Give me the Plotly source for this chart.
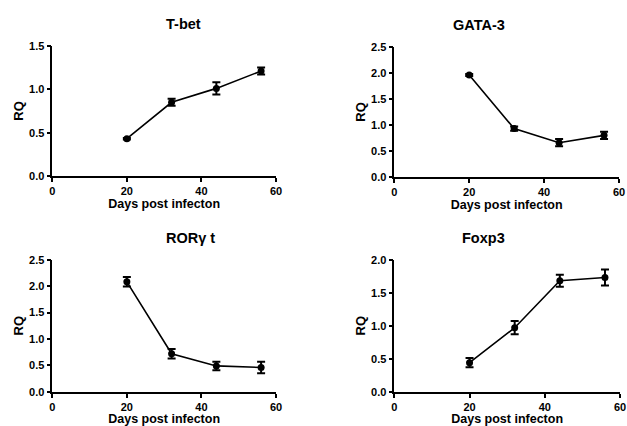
import plotly.graph_objects as go

days = [20, 32, 44, 56]
tbet = [0.43, 0.85, 1.01, 1.21]
tbet_err = [0.01, 0.04, 0.07, 0.04]
gata3 = [1.96, 0.93, 0.66, 0.80]
gata3_err = [0.02, 0.04, 0.07, 0.07]
rorgt = [2.08, 0.72, 0.49, 0.46]
rorgt_err = [0.09, 0.09, 0.08, 0.11]
foxp3 = [0.44, 0.97, 1.68, 1.73]
foxp3_err = [0.07, 0.10, 0.09, 0.12]

panels = [
    ("T-bet", tbet, tbet_err, 1.5),
    ("GATA-3", gata3, gata3_err, 2.5),
    ("RORγ t", rorgt, rorgt_err, 2.5),
    ("Foxp3", foxp3, foxp3_err, 2.0),
]

W, H = 627, 426
# pixel boxes: (x0, x1, y_bottom, y_top)
boxes = [
    (50, 277, 175, 41),
    (397, 625, 176, 42),
    (50, 277, 397, 261),
    (397, 626, 397, 261),
]

FONT = "Liberation Sans, Arial, sans-serif"
fig = go.Figure()
for i, ((title, vals, errs, ymax), (x0, x1, yb, yt)) in enumerate(zip(panels, boxes)):
    n = i + 1
    xa = "x" if n == 1 else f"x{n}"
    ya = "y" if n == 1 else f"y{n}"
    fig.add_trace(go.Scatter(
        x=days, y=vals, xaxis=xa, yaxis=ya, mode="lines+markers",
        line=dict(color="black", width=1.6),
        marker=dict(color="black", size=7),
        error_y=dict(type="data", array=errs, color="black", thickness=2, width=4),
        cliponaxis=False, showlegend=False,
    ))
    xd = [x0 / W, x1 / W]
    yd = [(H - yb) / H, (H - yt) / H]
    axcommon = dict(showline=True, linecolor="black", linewidth=1.5, ticks="outside",
                    tickcolor="black", ticklen=4, tickwidth=1.5, showgrid=False, zeroline=False,
                    tickfont=dict(family=FONT, size=11, color="black", weight="bold"))
    fig.layout[f"xaxis{'' if n == 1 else n}"] = dict(
        domain=xd, range=[0, 60], tickvals=[0, 20, 40, 60], anchor=ya,
        title=dict(text="Days post infecton", standoff=2,
                   font=dict(family=FONT, size=12.5, color="black", weight="bold")),
        **axcommon)
    fig.layout[f"yaxis{'' if n == 1 else n}"] = dict(
        domain=yd, range=[0, ymax], dtick=0.5, tickformat=".1f", anchor=xa,
        title=dict(text="RQ", standoff=2,
                   font=dict(family=FONT, size=13, color="black", weight="bold")),
        **axcommon)
    fig.add_annotation(text=title, xref="paper", yref="paper",
                       x=(x0 + x1) / 2 / W, y=(H - (yt - 22)) / H, showarrow=False,
                       yanchor="middle",
                       font=dict(family=FONT, size=14.5, color="black", weight="bold"))

fig.update_layout(width=W, height=H, margin=dict(l=0, r=0, t=0, b=0),
                  plot_bgcolor="white", paper_bgcolor="white")
fig.write_html("out.html", config={"displayModeBar": False},
               post_script="document.body.style.margin='0';document.body.style.overflow='hidden';")
